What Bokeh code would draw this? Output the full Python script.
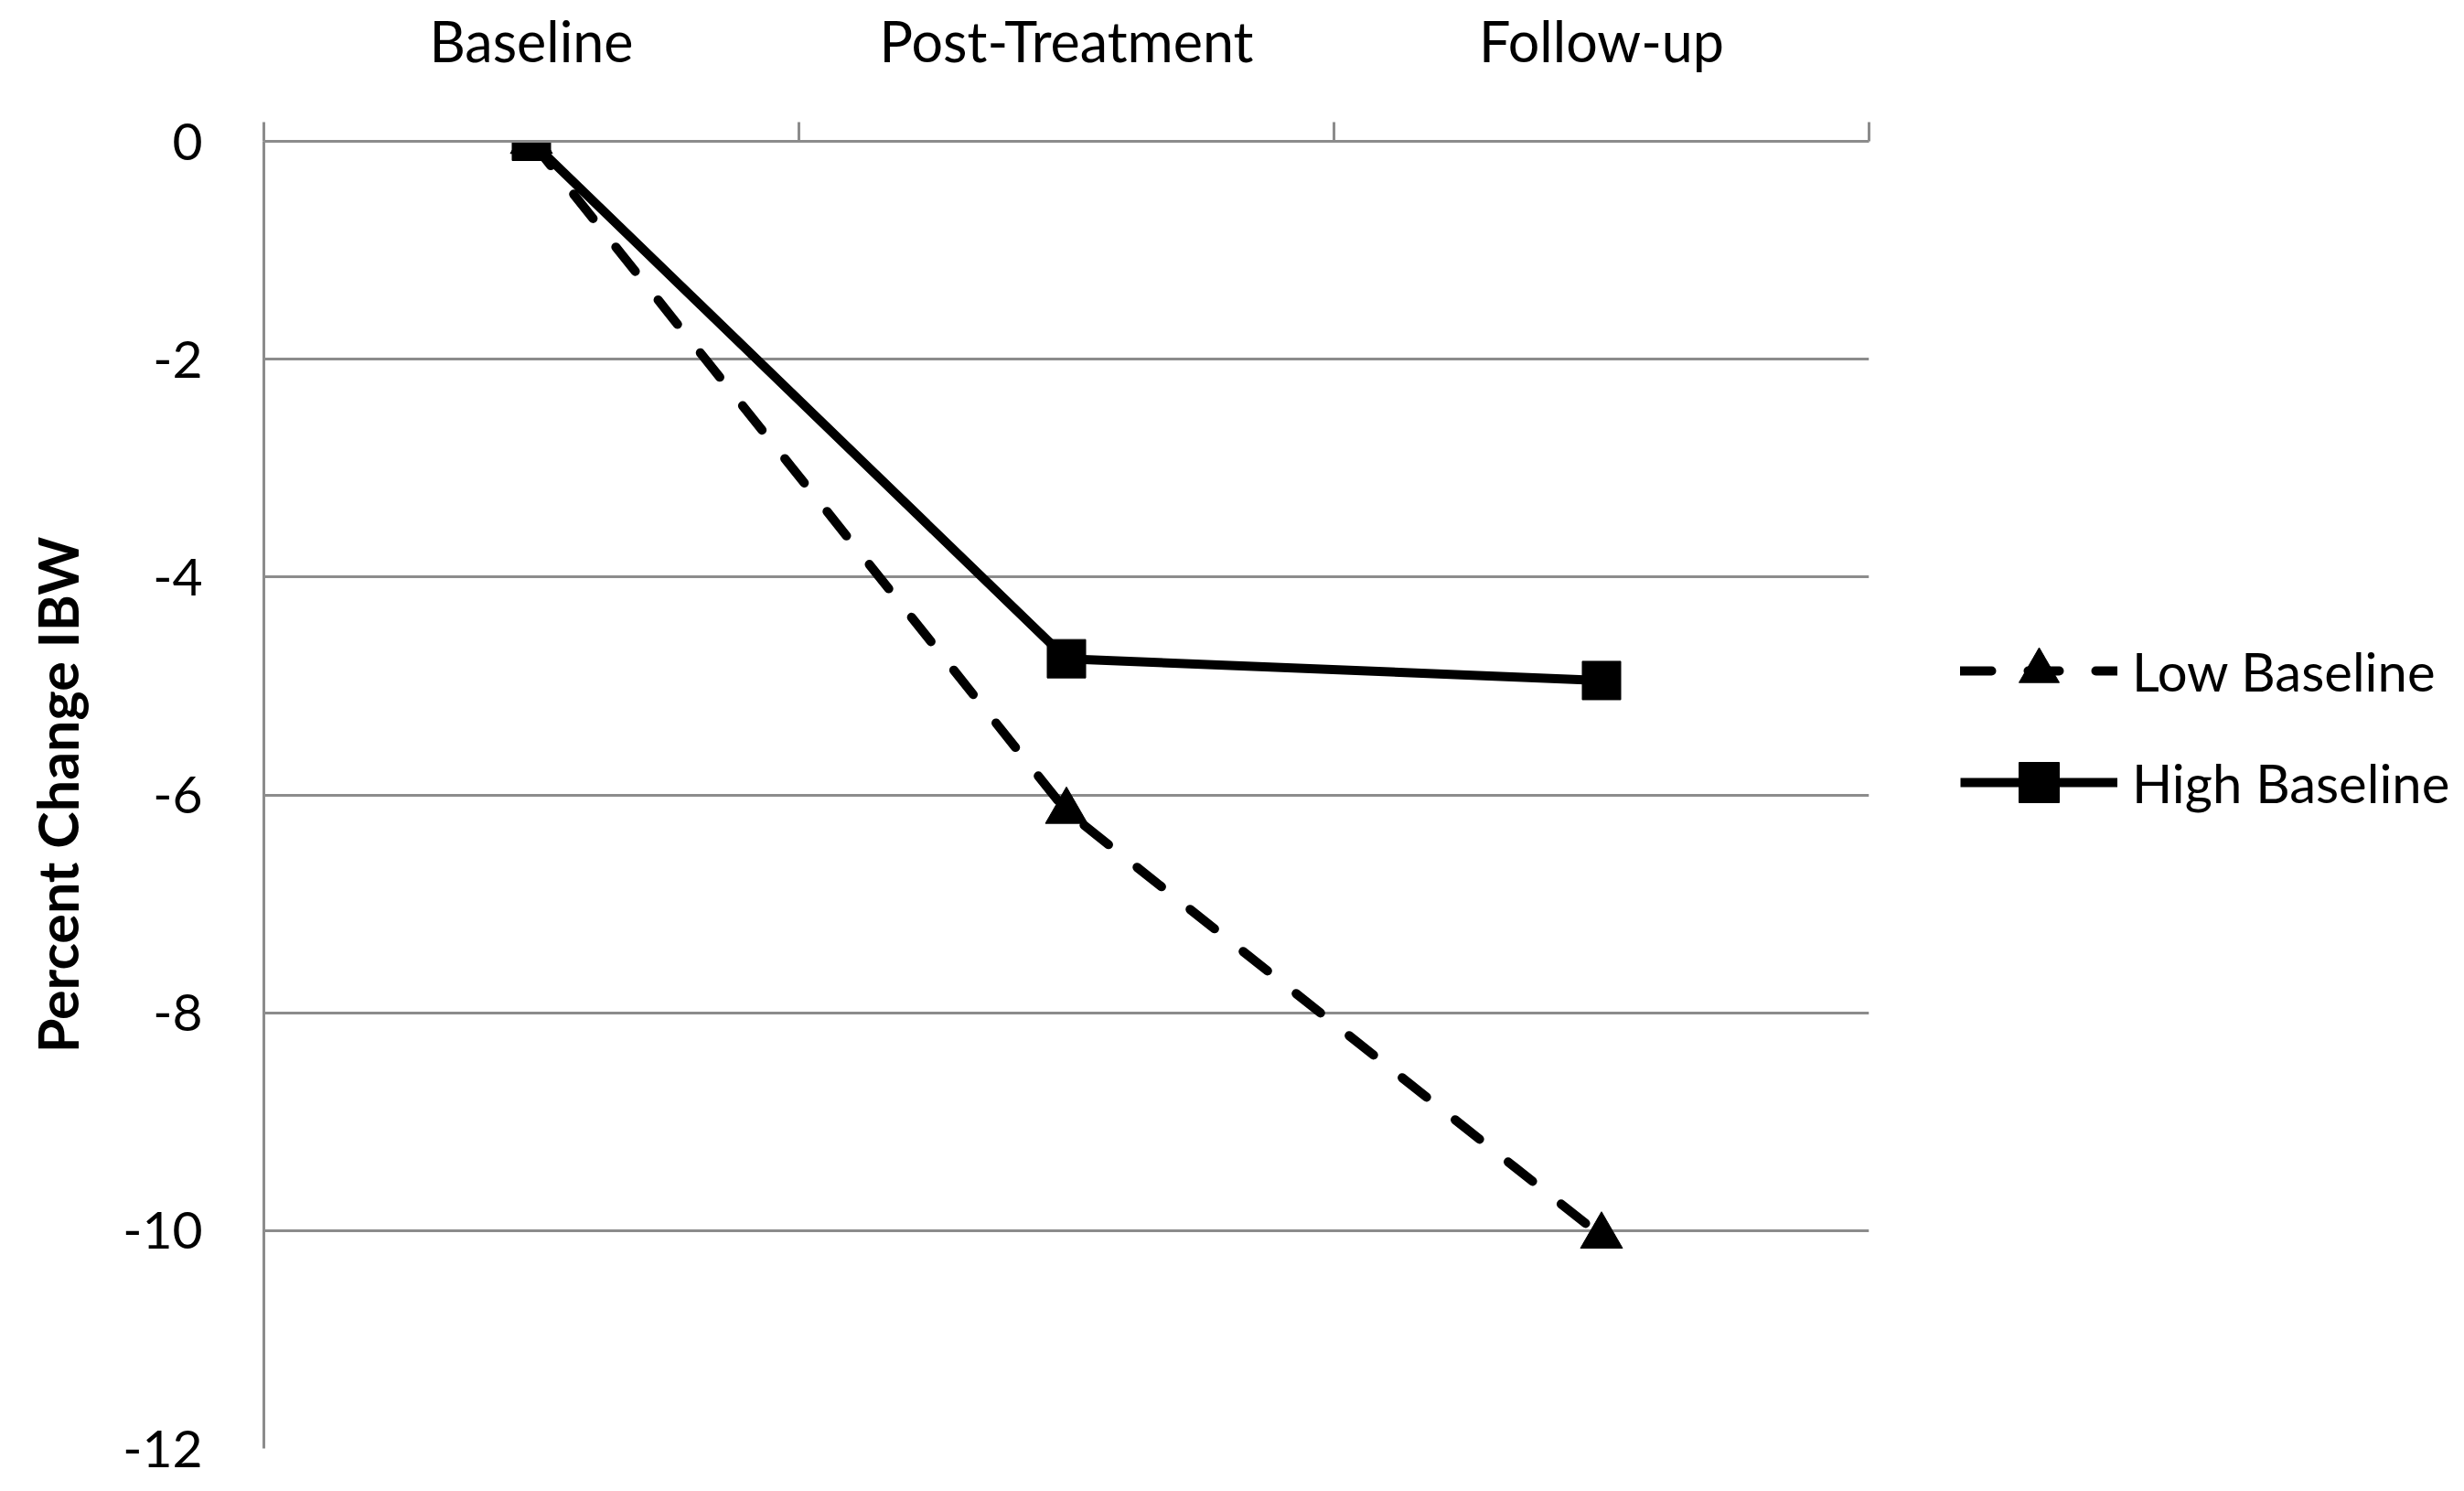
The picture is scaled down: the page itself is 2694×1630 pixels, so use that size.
from bokeh.plotting import figure
from bokeh.models import (Range1d, LinearAxis, FixedTicker, Legend, LegendItem, Grid)
from bokeh.embed import file_html
from bokeh.resources import INLINE

categories = ["Baseline", "Post-Treatment", "Follow-up"]
low_baseline = [0.0, -6.15, -10.05]
high_baseline = [0.0, -4.75, -4.95]
y_ticks = [0, -2, -4, -6, -8, -10, -12]
y_title = "Percent Change IBW"

FONT = "Lato"
GRID = "#8c8c8c"

xs = [i + 0.5 for i in range(len(categories))]

p = figure(frame_width=1755, frame_height=1429, output_backend="svg", toolbar_location=None,
           x_range=Range1d(0, len(categories)), y_range=Range1d(min(y_ticks), max(y_ticks)),
           x_axis_location=None, y_axis_location=None,
           min_border_left=288, min_border_top=154, min_border_bottom=45,
           min_border_right=640)
p.outline_line_color = None
p.background_fill_color = "white"
p.border_fill_color = "white"

# y axis (left)
yaxis = LinearAxis(ticker=FixedTicker(ticks=y_ticks))
yaxis.major_label_overrides = {t: str(t) for t in y_ticks}
yaxis.axis_line_color = GRID
yaxis.axis_line_width = 3
yaxis.major_tick_line_color = None
yaxis.minor_tick_line_color = None
yaxis.major_label_text_font = FONT
yaxis.major_label_text_font_size = "57px"
yaxis.major_label_text_color = "#000000"
yaxis.major_label_standoff = 61
yaxis.axis_label = y_title
yaxis.axis_label_text_font = FONT
yaxis.axis_label_text_font_style = "bold"
yaxis.axis_label_text_font_size = "61px"
yaxis.axis_label_text_color = "#000000"
yaxis.axis_label_standoff = 32
p.add_layout(yaxis, "left")

# x axis (top) - labels at category centres, tick marks at boundaries
bounds = list(range(len(categories) + 1))
xaxis = LinearAxis(ticker=FixedTicker(ticks=xs, minor_ticks=bounds))
xaxis.major_label_overrides = {x: c for x, c in zip(xs, categories)}
xaxis.axis_line_color = GRID
xaxis.axis_line_width = 3
xaxis.major_tick_line_color = None
xaxis.major_tick_out = 0
xaxis.major_tick_in = 0
xaxis.minor_tick_line_color = GRID
xaxis.minor_tick_line_width = 3
xaxis.minor_tick_out = 21
xaxis.minor_tick_in = 0
xaxis.major_label_text_font = FONT
xaxis.major_label_text_font_size = "61px"
xaxis.major_label_text_color = "#000000"
xaxis.major_label_standoff = 53
p.add_layout(xaxis, "above")

p.xgrid.visible = False
p.ygrid.visible = False
ygrid = Grid(dimension=1, ticker=FixedTicker(ticks=y_ticks), grid_line_color=GRID,
             grid_line_width=3)
p.add_layout(ygrid)

# series
l1 = p.line(xs, low_baseline, line_color="black", line_width=10, line_dash="34 40",
            line_cap="round")
m1 = p.scatter(xs, low_baseline, marker="triangle", size=46, fill_color="black",
               line_color="black")
l2 = p.line(xs, high_baseline, line_color="black", line_width=10)
m2 = p.scatter(xs, high_baseline, marker="square", size=42, fill_color="black",
               line_color="black")

legend = Legend(items=[LegendItem(label="Low Baseline", renderers=[l1, m1]),
                       LegendItem(label="High Baseline", renderers=[l2, m2])],
                location=(100, 673))
legend.border_line_color = None
legend.background_fill_alpha = 0
legend.label_text_font = FONT
legend.label_text_font_size = "58px"
legend.label_text_color = "#000000"
legend.glyph_width = 172
legend.glyph_height = 110
legend.label_height = 60
legend.spacing = 12
legend.label_standoff = 16
legend.padding = 0
legend.margin = 0
p.add_layout(legend, "right")

open("out.html", "w").write(file_html(p, INLINE))
